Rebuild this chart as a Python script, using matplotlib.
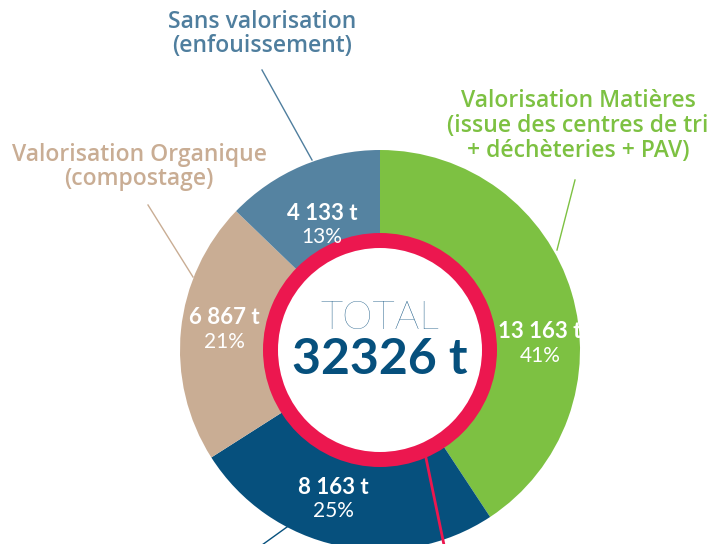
import matplotlib.pyplot as plt

# data
categories = ['Valorisation Matières', 'Sans valorisation mat.', 'Valorisation Organique', 'Sans valorisation']
tonnes = [13163, 8163, 6867, 4133]
tonne_labels = ['13 163 t', '8 163 t', '6 867 t', '4 133 t']
pct_labels = ['41%', '25%', '21%', '13%']
colors = ['#7DC142', '#06507D', '#C9AD94', '#5583A1']
total = sum(tonnes)

W, H = 718, 544
def Y(py):
    return H - py

plt.rcParams['font.family'] = ['Lato', 'DejaVu Sans']
fig = plt.figure(figsize=(W / 100, H / 100), dpi=100)
ax = fig.add_axes([0, 0, 1, 1])

cx, cy = 380, Y(350)

# main donut
ax.pie(tonnes, colors=colors, startangle=90, counterclock=False,
       radius=200, center=(cx, cy), frame=True,
       wedgeprops=dict(width=85, linewidth=0))
# pink ring
ax.pie([total], colors=['#EC174F'], radius=117, center=(cx, cy), frame=True,
       wedgeprops=dict(width=15, linewidth=0))
ax.set_xlim(0, W)
ax.set_ylim(0, H)
ax.set_aspect('equal')
ax.axis('off')

# leader lines
ax.plot([262, 312], [Y(70), Y(160)], color='#4F7E9E', lw=1)
ax.plot([148, 193], [Y(205), Y(277)], color='#C9AD94', lw=1)
ax.plot([575, 557], [Y(180), Y(250)], color='#7DC142', lw=1)
ax.plot([287, 262], [Y(527), Y(545)], color='#06507D', lw=1)
ax.plot([426, 444], [Y(458), Y(545)], color='#EC174F', lw=2)

# values inside segments
pos = [(540, 332), (333, 487), (224, 318), (322, 213)]
for (x, y), t, p in zip(pos, tonne_labels, pct_labels):
    ax.text(x, Y(y), t, color='white', fontsize=16, fontweight='bold',
            ha='center', va='center')
    ax.text(x, Y(y + 24), p, color='white', fontsize=15, fontweight='normal',
            ha='center', va='center')

# centre
ax.text(cx, Y(318), 'TOTAL', color='#1A5A86', fontsize=28, fontweight='light',
        ha='center', va='center')
ax.text(cx, Y(360), '32326 t', color='#06507D', fontsize=36, fontweight='bold',
        ha='center', va='center')

# outer labels
lab = dict(fontsize=16.5, fontweight='semibold', ha='center', va='center',
           family=['Open Sans', 'DejaVu Sans'], linespacing=1.05)
ax.text(262, Y(34), 'Sans valorisation\n(enfouissement)', color='#4F7E9E', **lab)
ax.text(139, Y(167), 'Valorisation Organique\n(compostage)', color='#C9AD94', **lab)
ax.text(578, Y(126), 'Valorisation Matières\n(issue des centres de tri\n+ déchèteries + PAV)',
        color='#7DC142', **lab)

fig.savefig('out.png', dpi=100)
